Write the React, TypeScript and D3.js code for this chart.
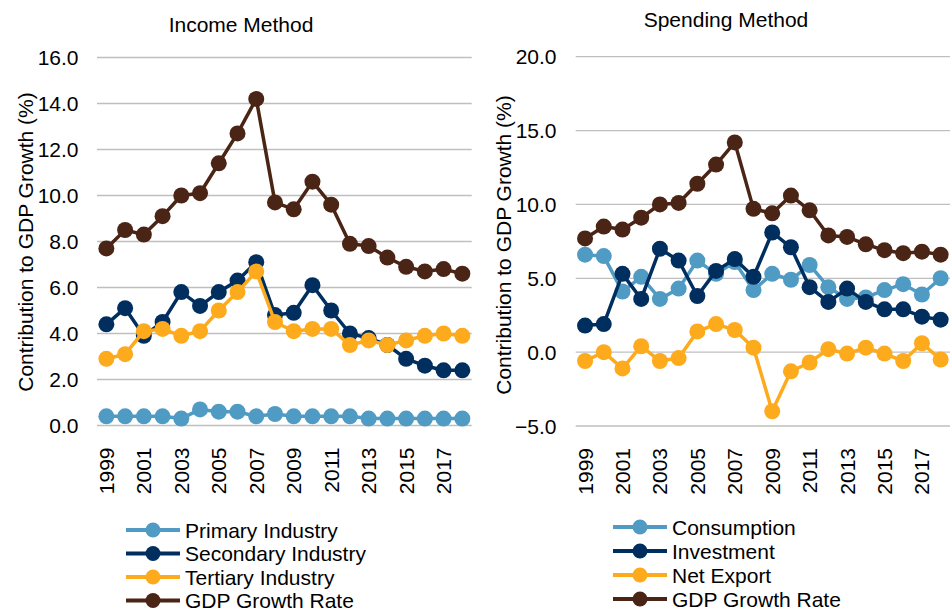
import React from "react";
import * as d3 from "d3";

const years = ["1999","2000","2001","2002","2003","2004","2005","2006","2007","2008","2009","2010","2011","2012","2013","2014","2015","2016","2017","2018"];
const yearTickLabels = ["1999","2001","2003","2005","2007","2009","2011","2013","2015","2017"];

const gdp = [7.7, 8.5, 8.3, 9.1, 10.0, 10.1, 11.4, 12.7, 14.2, 9.7, 9.4, 10.6, 9.6, 7.9, 7.8, 7.3, 6.9, 6.7, 6.8, 6.6];
const primary = [0.4, 0.4, 0.4, 0.4, 0.3, 0.7, 0.6, 0.6, 0.4, 0.5, 0.4, 0.4, 0.4, 0.4, 0.3, 0.3, 0.3, 0.3, 0.3, 0.3];
const secondary = [4.4, 5.1, 3.9, 4.5, 5.8, 5.2, 5.8, 6.3, 7.1, 4.8, 4.9, 6.1, 5.0, 4.0, 3.8, 3.5, 2.9, 2.6, 2.4, 2.4];
const tertiary = [2.9, 3.1, 4.1, 4.2, 3.9, 4.1, 5.0, 5.8, 6.7, 4.5, 4.1, 4.2, 4.2, 3.5, 3.7, 3.5, 3.7, 3.9, 4.0, 3.9];

const consumption = [6.6, 6.5, 4.1, 5.1, 3.6, 4.3, 6.2, 5.3, 6.1, 4.2, 5.3, 4.9, 5.9, 4.4, 3.6, 3.7, 4.2, 4.6, 3.9, 5.0];
const investment = [1.8, 1.9, 5.3, 3.6, 7.0, 6.2, 3.8, 5.5, 6.3, 5.1, 8.1, 7.1, 4.4, 3.4, 4.3, 3.4, 2.9, 2.9, 2.4, 2.2];
const netExport = [-0.6, 0.0, -1.1, 0.4, -0.6, -0.4, 1.4, 1.9, 1.5, 0.3, -4.0, -1.3, -0.7, 0.2, -0.1, 0.3, -0.1, -0.6, 0.6, -0.5];

const incomeTicks = [0, 2, 4, 6, 8, 10, 12, 14, 16];
const spendingTicks = [-5, 0, 5, 10, 15, 20];

const C_LIGHT = "#4f9bc4";
const C_NAVY = "#002e5f";
const C_ORANGE = "#fdaa1c";
const C_BROWN = "#4a2516";

const FONT = "'Liberation Sans', Arial, sans-serif";

type Series = { name: string; values: number[]; color: string };

const incomeSeries: Series[] = [
  { name: "Primary Industry", values: primary, color: C_LIGHT },
  { name: "Secondary Industry", values: secondary, color: C_NAVY },
  { name: "Tertiary Industry", values: tertiary, color: C_ORANGE },
  { name: "GDP Growth Rate", values: gdp, color: C_BROWN },
];
const spendingSeries: Series[] = [
  { name: "Consumption", values: consumption, color: C_LIGHT },
  { name: "Investment", values: investment, color: C_NAVY },
  { name: "Net Export", values: netExport, color: C_ORANGE },
  { name: "GDP Growth Rate", values: gdp, color: C_BROWN },
];

type PanelProps = {
  title: string;
  titleX: number;
  titleY: number;
  series: Series[];
  ticks: number[];
  xRange: [number, number];
  yRange: [number, number];
  tickLabelX: number;
  axisTitleX: number;
  axisTitleY: number;
  legendX: number;
  legendY: number;
  legendStep: number;
};

function Panel(p: PanelProps) {
  const x = d3.scaleBand<string>().domain(years).range(p.xRange).padding(0);
  const y = d3.scaleLinear().domain([p.ticks[0], p.ticks[p.ticks.length - 1]]).range(p.yRange);
  const cx = (yr: string) => (x(yr) as number) + x.bandwidth() / 2;
  const line = d3
    .line<number>()
    .x((_, i) => cx(years[i]))
    .y((v) => y(v));
  const fmt = d3.format(".1f");
  const bottom = p.yRange[0];
  return (
    <g>
      <text x={p.titleX} y={p.titleY} textAnchor="middle" fontSize={21} fill="#000">
        {p.title}
      </text>
      {p.ticks.map((t) => (
        <g key={t}>
          <line x1={p.xRange[0]} x2={p.xRange[1]} y1={y(t)} y2={y(t)} stroke="#bfbfbf" strokeWidth={1.3} />
          <text x={p.tickLabelX} y={y(t)} dy="0.36em" textAnchor="end" fontSize={21} fill="#000">
            {fmt(t)}
          </text>
        </g>
      ))}
      <text
        transform={`translate(${p.axisTitleX},${p.axisTitleY}) rotate(-90)`}
        textAnchor="middle"
        fontSize={21}
        fill="#000"
      >
        Contribution to GDP Growth (%)
      </text>
      {yearTickLabels.map((yr) => (
        <text
          key={yr}
          transform={`translate(${cx(yr)},${bottom + 22}) rotate(-90)`}
          dy="0.36em"
          textAnchor="end"
          fontSize={21}
          fill="#000"
        >
          {yr}
        </text>
      ))}
      {p.series.map((s) => (
        <g key={s.name}>
          <path d={line(s.values) || ""} fill="none" stroke={s.color} strokeWidth={3.5} strokeLinejoin="round" />
          {s.values.map((v, i) => (
            <circle key={i} cx={cx(years[i])} cy={y(v)} r={8} fill={s.color} />
          ))}
        </g>
      ))}
      {p.series.map((s, i) => {
        const ly = p.legendY + i * p.legendStep;
        return (
          <g key={"lg" + s.name}>
            <line x1={p.legendX} x2={p.legendX + 54} y1={ly} y2={ly} stroke={s.color} strokeWidth={4} />
            <circle cx={p.legendX + 27} cy={ly} r={7.5} fill={s.color} />
            <text x={p.legendX + 59} y={ly} dy="0.36em" fontSize={21} fill="#000">
              {s.name}
            </text>
          </g>
        );
      })}
    </g>
  );
}

export default function App() {
  return (
    <svg
      width={951}
      height={612}
      style={{ position: "absolute", left: 0, top: 0, background: "#fff" }}
      fontFamily={FONT}
    >
      <rect width={951} height={612} fill="#fff" />
      <Panel
        title="Income Method"
        titleX={241}
        titleY={32}
        series={incomeSeries}
        ticks={incomeTicks}
        xRange={[97, 471.7]}
        yRange={[425.5, 57.5]}
        tickLabelX={78.5}
        axisTitleX={33}
        axisTitleY={242}
        legendX={126}
        legendY={530}
        legendStep={23.5}
      />
      <Panel
        title="Spending Method"
        titleX={726}
        titleY={27}
        series={spendingSeries}
        ticks={spendingTicks}
        xRange={[575.7, 950]}
        yRange={[426, 56.7]}
        tickLabelX={556.5}
        axisTitleX={511}
        axisTitleY={245}
        legendX={613}
        legendY={527}
        legendStep={24}
      />
    </svg>
  );
}
